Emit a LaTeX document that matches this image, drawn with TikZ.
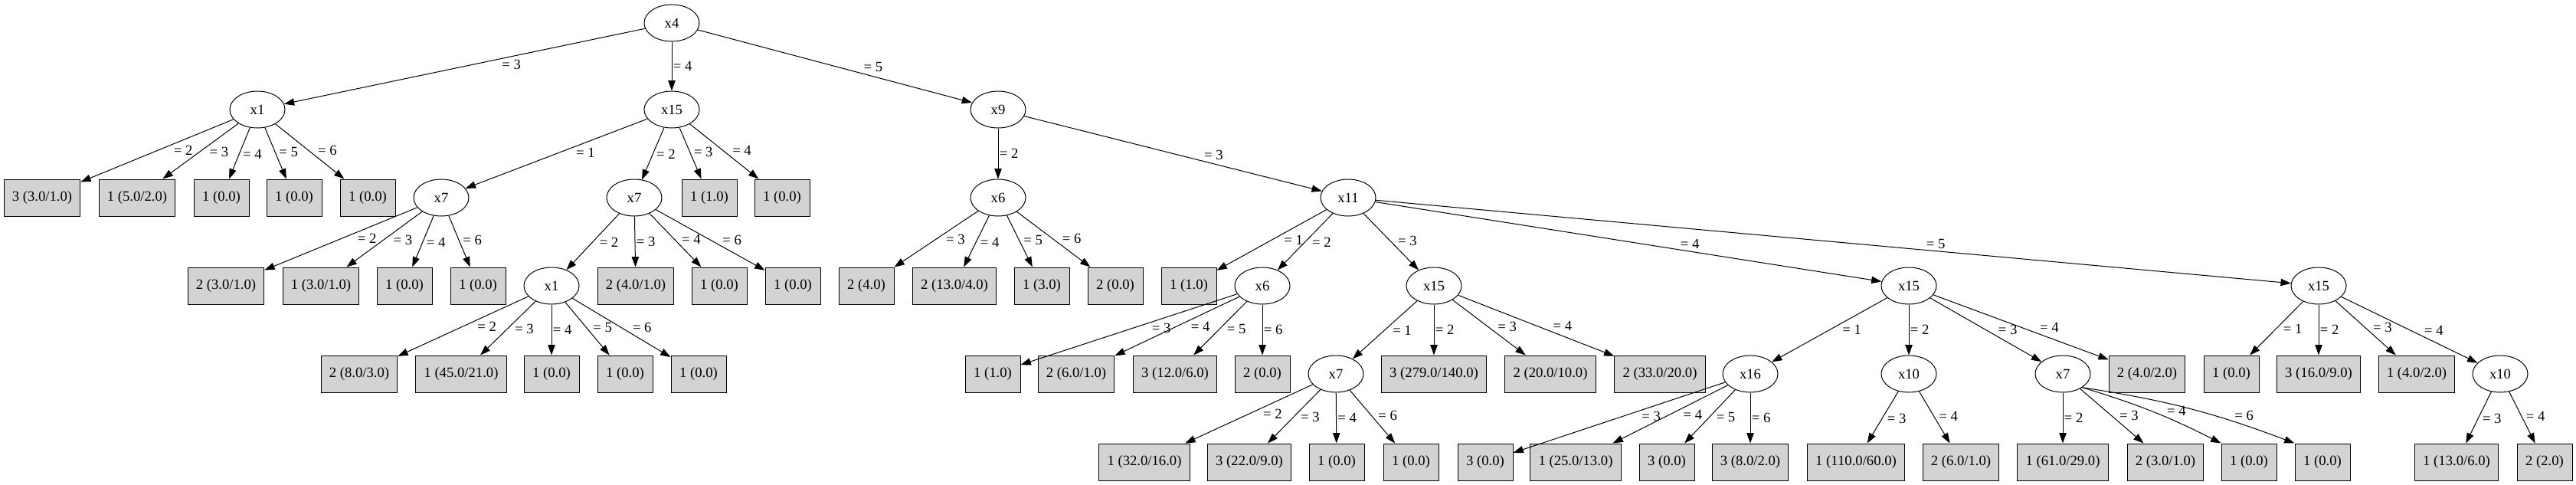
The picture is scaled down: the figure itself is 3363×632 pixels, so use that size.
\documentclass[tikz,border=0pt]{standalone}
\usepackage{fontspec}
\setmainfont{Liberation Serif}
\usetikzlibrary{arrows.meta,shapes.geometric}
\definecolor{leafgray}{HTML}{D3D3D3}

\begin{document}
\begin{tikzpicture}[x=0.75pt, y=-0.75pt, line width=0.75pt,
    >={Triangle[length=10pt,width=7pt]},
    font=\fontsize{14}{16}\selectfont,
    test/.style={draw, ellipse, minimum width=54pt, minimum height=36pt, inner sep=0pt},
    leaf/.style={draw, fill=leafgray, minimum width=54pt, minimum height=36pt, inner xsep=8pt, inner ysep=0pt},
    lL/.style={pos=.4, anchor=north west, inner sep=1pt},
    lR/.style={pos=.6, anchor=south west, inner sep=1pt},
    lV/.style={pos=.5, anchor=west, inner sep=1pt}]
    \useasboundingbox (0,0) rectangle (3363,632);

    % level 0 and 1
    \node[test] (r) at (877,30) {x4};
    \node[test] (a) at (336,143) {x1};
    \node[test] (b) at (877,143) {x15};
    \node[test] (c) at (1303,143) {x9};

    % level 2
    \node[leaf] (a1) at (55,258) {3 (3.0/1.0)};
    \node[leaf] (a2) at (179,258) {1 (5.0/2.0)};
    \node[leaf] (a3) at (289,258) {1 (0.0)};
    \node[leaf] (a4) at (384,258) {1 (0.0)};
    \node[leaf] (a5) at (480,258) {1 (0.0)};
    \node[test] (ba) at (576,258) {x7};
    \node[test] (bb) at (828,258) {x7};
    \node[leaf] (b3) at (926,258) {1 (1.0)};
    \node[leaf] (b4) at (1021,258) {1 (0.0)};
    \node[test] (ca) at (1303,258) {x6};
    \node[test] (cb) at (1760,258) {x11};

    % level 3
    \node[leaf] (ba1) at (295,373) {2 (3.0/1.0)};
    \node[leaf] (ba2) at (419,373) {1 (3.0/1.0)};
    \node[leaf] (ba3) at (528,373) {1 (0.0)};
    \node[leaf] (ba4) at (624,373) {1 (0.0)};
    \node[test] (bba) at (720,373) {x1};
    \node[leaf] (bb2) at (830,373) {2 (4.0/1.0)};
    \node[leaf] (bb3) at (939,373) {1 (0.0)};
    \node[leaf] (bb4) at (1035,373) {1 (0.0)};
    \node[leaf] (ca1) at (1131,373) {2 (4.0)};
    \node[leaf] (ca2) at (1246,373) {2 (13.0/4.0)};
    \node[leaf] (ca3) at (1360,373) {1 (3.0)};
    \node[leaf] (ca4) at (1456,373) {2 (0.0)};
    \node[leaf] (cb1) at (1552,373) {1 (1.0)};
    \node[test] (cbb) at (1648,373) {x6};
    \node[test] (cbc) at (1872,373) {x15};
    \node[test] (cbd) at (2492,373) {x15};
    \node[test] (cbe) at (3027,373) {x15};

    % level 4
    \node[leaf] (bba1) at (469,488) {2 (8.0/3.0)};
    \node[leaf] (bba2) at (602,488) {1 (45.0/21.0)};
    \node[leaf] (bba3) at (720,488) {1 (0.0)};
    \node[leaf] (bba4) at (816,488) {1 (0.0)};
    \node[leaf] (bba5) at (912,488) {1 (0.0)};
    \node[leaf] (cbb1) at (1296,488) {1 (1.0)};
    \node[leaf] (cbb2) at (1405,488) {2 (6.0/1.0)};
    \node[leaf] (cbb3) at (1534,488) {3 (12.0/6.0)};
    \node[leaf] (cbb4) at (1648,488) {2 (0.0)};
    \node[test] (cbca) at (1744,488) {x7};
    \node[leaf] (cbc2) at (1872,488) {3 (279.0/140.0)};
    \node[leaf] (cbc3) at (2024,488) {2 (20.0/10.0)};
    \node[leaf] (cbc4) at (2167,488) {2 (33.0/20.0)};
    \node[test] (cbda) at (2285,488) {x16};
    \node[test] (cbdb) at (2492,488) {x10};
    \node[test] (cbdc) at (2693,488) {x7};
    \node[leaf] (cbd4) at (2803,488) {2 (4.0/2.0)};
    \node[leaf] (cbe1) at (2913,488) {1 (0.0)};
    \node[leaf] (cbe2) at (3027,488) {3 (16.0/9.0)};
    \node[leaf] (cbe3) at (3155,488) {1 (4.0/2.0)};
    \node[test] (cbed) at (3264,488) {x10};

    % level 5
    \node[leaf] (cbca1) at (1494,603) {1 (32.0/16.0)};
    \node[leaf] (cbca2) at (1631,603) {3 (22.0/9.0)};
    \node[leaf] (cbca3) at (1745,603) {1 (0.0)};
    \node[leaf] (cbca4) at (1842,603) {1 (0.0)};
    \node[leaf] (cbda1) at (1939,603) {3 (0.0)};
    \node[leaf] (cbda2) at (2057,603) {1 (25.0/13.0)};
    \node[leaf] (cbda3) at (2176,603) {3 (0.0)};
    \node[leaf] (cbda4) at (2285,603) {3 (8.0/2.0)};
    \node[leaf] (cbdb1) at (2423,603) {1 (110.0/60.0)};
    \node[leaf] (cbdb2) at (2560,603) {2 (6.0/1.0)};
    \node[leaf] (cbdc1) at (2693,603) {1 (61.0/29.0)};
    \node[leaf] (cbdc2) at (2827,603) {2 (3.0/1.0)};
    \node[leaf] (cbdc3) at (2936,603) {1 (0.0)};
    \node[leaf] (cbdc4) at (3032,603) {1 (0.0)};
    \node[leaf] (cbed1) at (3207,603) {1 (13.0/6.0)};
    \node[leaf] (cbed2) at (3322,603) {2 (2.0)};

    % branches
    \draw[->] (r) -- node[lL] {= 3} (a);
    \draw[->] (r) -- node[lV] {= 4} (b);
    \draw[->] (r) -- node[lR] {= 5} (c);

    \draw[->] (a) -- node[lL] {= 2} (a1);
    \draw[->] (a) -- node[lL] {= 3} (a2);
    \draw[->] (a) -- node[lL] {= 4} (a3);
    \draw[->] (a) -- node[lR] {= 5} (a4);
    \draw[->] (a) -- node[lR] {= 6} (a5);

    \draw[->] (b) -- node[lL] {= 1} (ba);
    \draw[->] (b) -- node[lL] {= 2} (bb);
    \draw[->] (b) -- node[lR] {= 3} (b3);
    \draw[->] (b) -- node[lR] {= 4} (b4);

    \draw[->] (c) -- node[lV] {= 2} (ca);
    \draw[->] (c) -- node[lR] {= 3} (cb);

    \draw[->] (ba) -- node[lL] {= 2} (ba1);
    \draw[->] (ba) -- node[lL] {= 3} (ba2);
    \draw[->] (ba) -- node[lL] {= 4} (ba3);
    \draw[->] (ba) -- node[lR] {= 6} (ba4);

    \draw[->] (bb) -- node[lL] {= 2} (bba);
    \draw[->] (bb) -- node[lV] {= 3} (bb2);
    \draw[->] (bb) -- node[lR] {= 4} (bb3);
    \draw[->] (bb) -- node[lR] {= 6} (bb4);

    \draw[->] (ca) -- node[lL] {= 3} (ca1);
    \draw[->] (ca) -- node[lL] {= 4} (ca2);
    \draw[->] (ca) -- node[lR] {= 5} (ca3);
    \draw[->] (ca) -- node[lR] {= 6} (ca4);

    \draw[->] (cb) -- node[lL] {= 1} (cb1);
    \draw[->] (cb) -- node[lL] {= 2} (cbb);
    \draw[->] (cb) -- node[lR] {= 3} (cbc);
    \draw[->] (cb) -- node[lR] {= 4} (cbd);
    \draw[->] (cb) -- node[lR] {= 5} (cbe);

    \draw[->] (bba) -- node[lL] {= 2} (bba1);
    \draw[->] (bba) -- node[lL] {= 3} (bba2);
    \draw[->] (bba) -- node[lV] {= 4} (bba3);
    \draw[->] (bba) -- node[lR] {= 5} (bba4);
    \draw[->] (bba) -- node[lR] {= 6} (bba5);

    \draw[->] (cbb) -- node[lL] {= 3} (cbb1);
    \draw[->] (cbb) -- node[lL] {= 4} (cbb2);
    \draw[->] (cbb) -- node[lL] {= 5} (cbb3);
    \draw[->] (cbb) -- node[lV] {= 6} (cbb4);

    \draw[->] (cbc) -- node[lL] {= 1} (cbca);
    \draw[->] (cbc) -- node[lV] {= 2} (cbc2);
    \draw[->] (cbc) -- node[lR] {= 3} (cbc3);
    \draw[->] (cbc) -- node[lR] {= 4} (cbc4);

    \draw[->] (cbd) -- node[lL] {= 1} (cbda);
    \draw[->] (cbd) -- node[lV] {= 2} (cbdb);
    \draw[->] (cbd) -- node[lR] {= 3} (cbdc);
    \draw[->] (cbd) -- node[lR] {= 4} (cbd4);

    \draw[->] (cbe) -- node[lL] {= 1} (cbe1);
    \draw[->] (cbe) -- node[lV] {= 2} (cbe2);
    \draw[->] (cbe) -- node[lR] {= 3} (cbe3);
    \draw[->] (cbe) -- node[lR] {= 4} (cbed);

    \draw[->] (cbca) -- node[lL] {= 2} (cbca1);
    \draw[->] (cbca) -- node[lL] {= 3} (cbca2);
    \draw[->] (cbca) -- node[lV] {= 4} (cbca3);
    \draw[->] (cbca) -- node[lR] {= 6} (cbca4);

    \draw[->] (cbda) -- node[lL] {= 3} (cbda1);
    \draw[->] (cbda) -- node[lL] {= 4} (cbda2);
    \draw[->] (cbda) -- node[lL] {= 5} (cbda3);
    \draw[->] (cbda) -- node[lV] {= 6} (cbda4);

    \draw[->] (cbdb) -- node[lL] {= 3} (cbdb1);
    \draw[->] (cbdb) -- node[lR] {= 4} (cbdb2);

    \draw[->] (cbdc) -- node[lV] {= 2} (cbdc1);
    \draw[->] (cbdc) -- node[lR] {= 3} (cbdc2);
    \draw[->] (cbdc.-35) to[bend left=5] node[lR] {= 4} (cbdc3.north west);
    \draw[->] (cbdc.-35) to[bend left=6] node[lR, pos=.72] {= 6} (cbdc4.north west);

    \draw[->] (cbed) -- node[lL] {= 3} (cbed1);
    \draw[->] (cbed) -- node[lR] {= 4} (cbed2);
\end{tikzpicture}
\end{document}
